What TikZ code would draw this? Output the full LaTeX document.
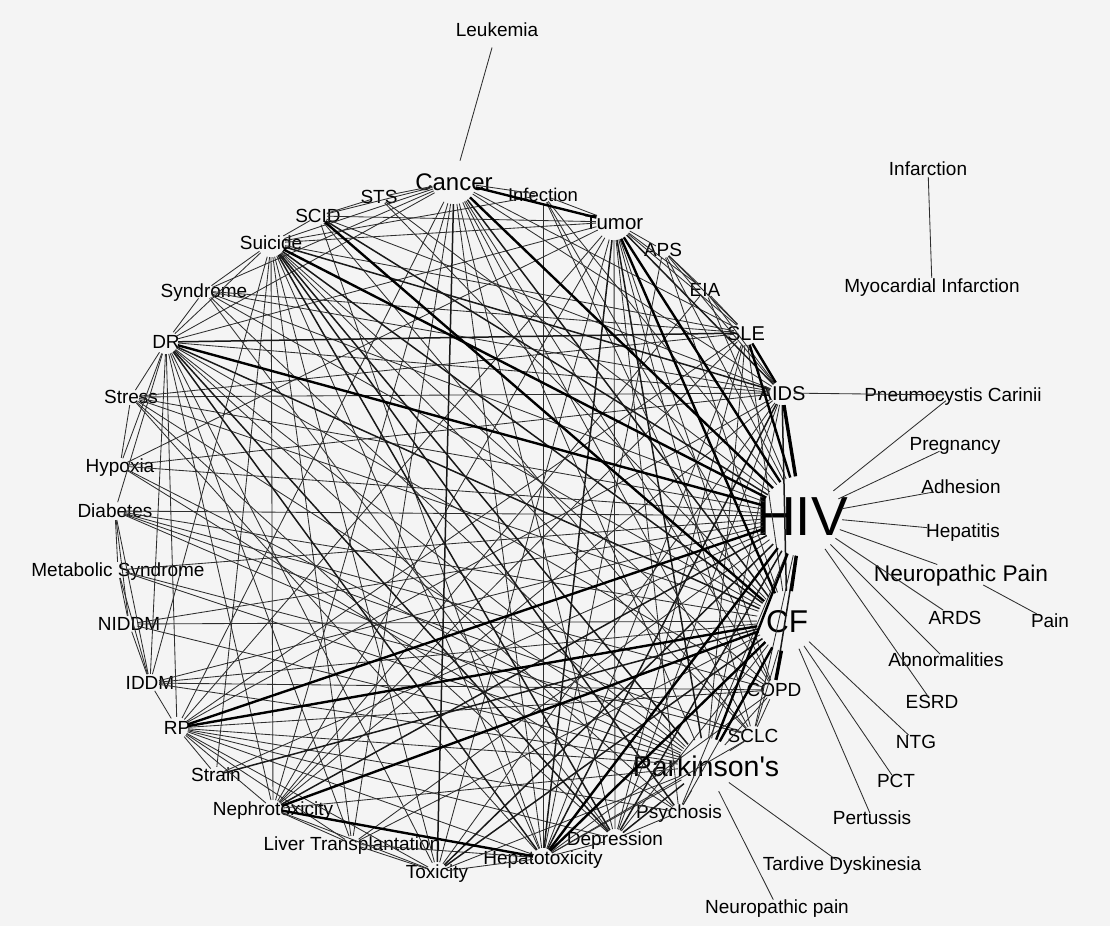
\documentclass[tikz,border=0pt]{standalone}
\usepackage{fontspec}
\setmainfont{Liberation Sans}
\definecolor{bgcol}{RGB}{244,244,244}
\begin{document}
\begin{tikzpicture}[x=1pt,y=-1pt,
    vert/.style={circle,inner sep=0pt,minimum size=#1},vert/.default=16,
    lab/.style={font=\fontsize{#1}{#1}\selectfont,inner sep=0pt,text height={0.72*#1pt},text depth=0pt},lab/.default=19,
    e1/.style={black!82,line width=0.85pt},
    e2/.style={black!90,line width=1.5pt},
    e3/.style={black,line width=2.4pt},
    e4/.style={black,line width=3.4pt}]
\fill[bgcol] (0,0) rectangle (1110,926);
\useasboundingbox (0,0) rectangle (1110,926);
% nodes on the ring
\node[vert=44,label={[lab=24]center:Cancer}] (can) at (454,182) {};
\node[vert,label={[lab=18.5]center:Infection}] (inf) at (543,195) {};
\node[vert=36,label={[lab=20.5]center:Tumor}] (tum) at (614,222) {};
\node[vert,label={[lab]center:APS}] (aps) at (663,250) {};
\node[vert,label={[lab]center:EIA}] (eia) at (705,290) {};
\node[vert=24,label={[lab=20]center:SLE}] (sle) at (746,333) {};
\node[vert=24,label={[lab=20]center:AIDS}] (aids) at (782,393) {};
\node[vert=80,label={[lab=55]center:HIV}] (hiv) at (802,516) {};
\node[vert=60,label={[lab=31.5]center:CF}] (cf) at (787,621) {};
\node[vert=20,label={[lab]center:COPD}] (copd) at (774,690) {};
\node[vert=20,label={[lab]center:SCLC}] (sclc) at (753,736) {};
\node[vert=56,label={[lab=28.5]center:Parkinson\textquotesingle s}] (park) at (706,766) {};
\node[vert,label={[lab]center:Psychosis}] (psy) at (679,812) {};
\node[vert=20,label={[lab]center:Depression}] (dep) at (615,839) {};
\node[vert=20,label={[lab]center:Hepatotoxicity}] (hep) at (543,858) {};
\node[vert=20,label={[lab]center:Toxicity}] (tox) at (437,872) {};
\node[vert,label={[lab]center:Liver Transplantation}] (liv) at (352,844) {};
\node[vert=18,label={[lab]center:Nephrotoxicity}] (nep) at (273,809) {};
\node[vert,label={[lab]center:Strain}] (str) at (216,775) {};
\node[vert=22,label={[lab]center:RP}] (rp) at (177,728) {};
\node[vert=18,label={[lab]center:IDDM}] (iddm) at (150,683) {};
\node[vert,label={[lab]center:NIDDM}] (niddm) at (129,624) {};
\node[vert,label={[lab]center:Metabolic Syndrome}] (met) at (118,570) {};
\node[vert=18,label={[lab]center:Diabetes}] (dia) at (115,511) {};
\node[vert,label={[lab]center:Hypoxia}] (hyp) at (120,466) {};
\node[vert,label={[lab]center:Stress}] (stre) at (131,397) {};
\node[vert=24,label={[lab]center:DR}] (dr) at (166,342) {};
\node[vert=18,label={[lab]center:Syndrome}] (syn) at (204,291) {};
\node[vert=28,label={[lab]center:Suicide}] (sui) at (271,243) {};
\node[vert=18,label={[lab]center:SCID}] (scid) at (318,216) {};
\node[vert,label={[lab]center:STS}] (sts) at (379,197) {};
% nodes outside
\node[vert=36,label={[lab]center:Leukemia}] (leuk) at (497,30) {};
\node[vert,label={[lab]center:Infarction}] (infa) at (928,169) {};
\node[vert,label={[lab]center:Myocardial Infarction}] (myo) at (932,286) {};
\node[vert=18,label={[lab]center:Pneumocystis Carinii}] (pneu) at (953,395) {};
\node[vert=34,label={[lab]center:Pregnancy}] (preg) at (955,444) {};
\node[vert=56,label={[lab]center:Adhesion}] (adh) at (961,487) {};
\node[vert=72,label={[lab]center:Hepatitis}] (hept) at (963,531) {};
\node[vert=50,label={[lab=22.7]center:Neuropathic Pain}] (npain) at (961,573) {};
\node[vert=30,label={[lab]center:Pain}] (pain) at (1050,621) {};
\node[vert=28,label={[lab]center:ARDS}] (ards) at (955,618) {};
\node[vert,label={[lab]center:Abnormalities}] (abn) at (946,660) {};
\node[vert=12,label={[lab]center:ESRD}] (esrd) at (932,702) {};
\node[vert=20,label={[lab]center:NTG}] (ntg) at (916,742) {};
\node[vert=14,label={[lab]center:PCT}] (pct) at (896,781) {};
\node[vert=10,label={[lab]center:Pertussis}] (pert) at (872,818) {};
\node[vert=12,label={[lab]center:Tardive Dyskinesia}] (tard) at (842,864) {};
\node[vert,label={[lab]center:Neuropathic pain}] (npl) at (777,907) {};
% links
\foreach \a/\b in {can/leuk,infa/myo,aids/pneu,hiv/pneu,hiv/preg,hiv/adh,hiv/hept,hiv/npain,npain/pain,hiv/ards,hiv/abn,hiv/esrd,cf/ntg,cf/pct,cf/pert,park/tard,park/npl,
    hiv/inf,hiv/aps,hiv/eia,hiv/sclc,hiv/psy,hiv/liv,hiv/str,hiv/iddm,hiv/niddm,hiv/met,hiv/dia,hiv/hyp,hiv/stre,hiv/syn,hiv/sts,
    cf/inf,cf/aps,cf/sle,cf/sclc,cf/psy,cf/dep,cf/liv,cf/iddm,cf/niddm,cf/dia,cf/stre,cf/syn,cf/sts,
    park/can,park/sle,park/aids,park/copd,park/sclc,park/psy,park/hep,park/tox,park/nep,park/rp,park/iddm,park/niddm,park/met,park/dia,park/hyp,park/stre,park/dr,park/syn,
    can/inf,can/sle,can/aids,can/copd,can/sclc,can/dep,can/hep,can/liv,can/nep,can/sui,can/scid,can/sts,can/syn,can/dr,can/rp,
    tum/inf,tum/aps,tum/eia,tum/sle,tum/copd,tum/sclc,tum/psy,tum/dep,tum/tox,tum/nep,tum/rp,tum/hyp,tum/dr,tum/sui,tum/scid,
    inf/copd,inf/sui,inf/hep,aps/sle,aps/aids,aps/eia,aps/hep,eia/sle,eia/aids,eia/nep,
    sle/syn,sle/sui,sle/rp,sle/nep,sle/hep,sle/dep,sle/stre,
    aids/dr,aids/syn,aids/rp,aids/tox,aids/dep,aids/stre,aids/hyp,aids/scid,aids/nep,
    copd/iddm,copd/rp,copd/sui,copd/dr,copd/hep,copd/sclc,copd/dia,sclc/hep,sclc/dia,sclc/sui,sclc/scid,sclc/met,
    psy/dep,psy/dr,psy/hyp,psy/rp,dep/syn,dep/stre,dep/hep,dep/rp,hep/tox,hep/liv,hep/sui,hep/rp,hep/stre,hep/scid,
    tox/nep,tox/liv,tox/rp,tox/sui,tox/dr,liv/nep,liv/sui,liv/dr,liv/rp,nep/rp,nep/dr,nep/sui,str/rp,str/sui,
    rp/iddm,rp/dr,iddm/dia,iddm/niddm,iddm/met,iddm/dr,iddm/sui,niddm/dia,niddm/met,met/dia,dia/dr,
    hyp/stre,hyp/dr,stre/dr,dr/syn,dr/sui,syn/sui,sui/scid,scid/sts}
  \draw[e1] (\a) -- (\b);
\foreach \a/\b in {hiv/copd,hiv/dep,hiv/tox,hiv/nep,hiv/scid,cf/can,cf/aids,cf/tox,cf/str,cf/dr,cf/sui,park/tum,park/dep,park/sui,
    can/tox,tum/aids,tum/hep,sle/dr,aids/sui,aids/hep,psy/sui,dep/dr,dep/sui,hep/dr}
  \draw[e2] (\a) -- (\b);
\foreach \a/\b in {hiv/sle,sle/aids,hiv/can,hiv/tum,hiv/park,hiv/hep,hiv/rp,hiv/dr,hiv/sui,cf/park,cf/hep,cf/nep,cf/rp,cf/scid,cf/tum,can/tum,hep/nep}
  \draw[e3] (\a) -- (\b);
\foreach \a/\b in {hiv/aids,hiv/cf,cf/copd}
  \draw[e4] (\a) -- (\b);
\end{tikzpicture}
\end{document}
